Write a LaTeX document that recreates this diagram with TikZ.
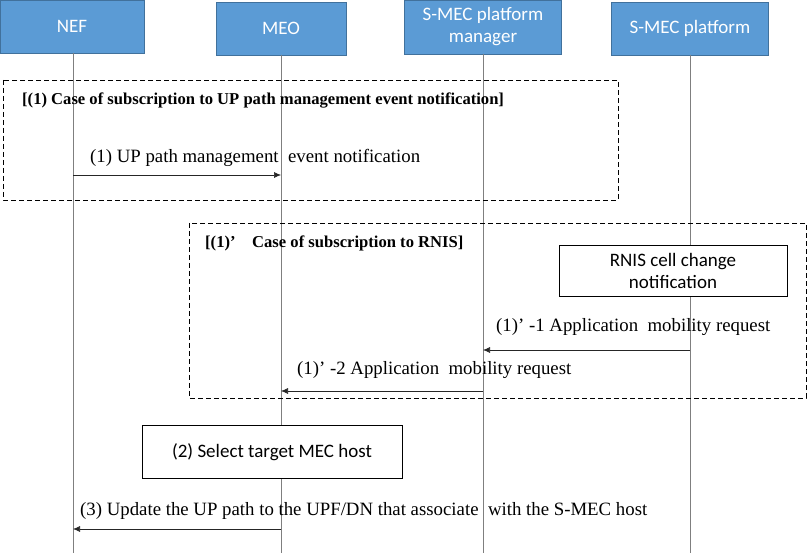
\documentclass[tikz,border=0pt]{standalone}
\usepackage{fontspec}
\setmainfont{Liberation Serif}
\newfontfamily\calib{Carlito}
\usetikzlibrary{arrows.meta,positioning}

\definecolor{headblue}{HTML}{5B9BD5}
\definecolor{headedge}{HTML}{41719C}
\definecolor{lifegray}{HTML}{7F7F7F}

\tikzset{
  head/.style={draw=headedge, fill=headblue, text=white, align=center,
    font=\calib\fontsize{19}{22}\selectfont, inner sep=0pt},
  actbox/.style={draw=black, fill=white, align=center,
    font=\calib\fontsize{19}{22}\selectfont, inner sep=0pt},
  life/.style={draw=lifegray, line width=0.6pt},
  msg/.style={draw=black!85, line width=0.6pt, -{Latex[length=7pt,width=6pt]}},
  msglabel/.style={anchor=base west, inner sep=0pt, font=\fontsize{18.8}{22}\selectfont},
  casebox/.style={draw=black, dash pattern=on 5pt off 3pt, line width=0.9pt},
  casetitle/.style={anchor=base west, inner sep=0pt, font=\bfseries\fontsize{16.6}{19}\selectfont}
}

\begin{document}
\begin{tikzpicture}[x=1pt,y=-1pt]
\useasboundingbox (0,0) rectangle (809,553);

% lanes
\node[head, minimum width=144pt, minimum height=53pt] (nef) at (72,26.5) {NEF};
\node[head, minimum width=130pt, minimum height=53pt] (meo) at (281,28.5) {MEO};
\node[head, minimum width=157pt, minimum height=54pt] (smpm) at (483,27) {S-MEC platform\\manager};
\node[head, minimum width=157pt, minimum height=53pt] (smp) at (690,28.5) {S-MEC platform};

\coordinate (nefend) at (73,553);
\coordinate (meoend) at (281,553);
\coordinate (smpmend) at (483,553);
\coordinate (smpend) at (690,553);
\draw[life] (nef.south -| nefend) -- (nefend);
\draw[life] (meo.south -| meoend) -- (meoend);
\draw[life] (smpm.south -| smpmend) -- (smpmend);
\draw[life] (smp.south -| smpend) -- (smpend);

% (1) UP path management
\draw[casebox] (3,80) rectangle (618,200);
\node[casetitle] (t1) at (22,105) {[(1) Case of subscription to UP path management event notification]};
\draw[msg] (nefend |- 0,175) -- (meoend |- 0,175);
\node[msglabel] (m1) at (90,163) {(1) UP path management\ \ event notification};

% (1)' RNIS
\draw[casebox] (189,223) rectangle (806,398);
\node[casetitle] (t2) at (205,248) {[(1)'\quad Case of subscription to RNIS]};
\node[actbox, minimum width=228pt, minimum height=51pt] (rnis) at (673,270.5) {RNIS cell change\\notification};
\draw[msg] (smpend |- 0,350) -- (smpmend |- 0,350);
\node[msglabel] (m2) at (496,332) {(1)' -1 Application\ \ mobility request};
\draw[msg] (smpmend |- 0,391) -- (meoend |- 0,391);
\node[msglabel] (m3) at (297,375) {(1)' -2 Application\ \ mobility request};

% (2) and (3)
\node[actbox, minimum width=260pt, minimum height=53pt] (sel) at (272,452) {(2) Select target MEC host};
\draw[msg] (meoend |- 0,529) -- (nefend |- 0,529);
\node[msglabel] (m4) at (80,515) {(3) Update the UP path to the UPF/DN that associate\ \ with the S-MEC host};
\end{tikzpicture}
\end{document}
